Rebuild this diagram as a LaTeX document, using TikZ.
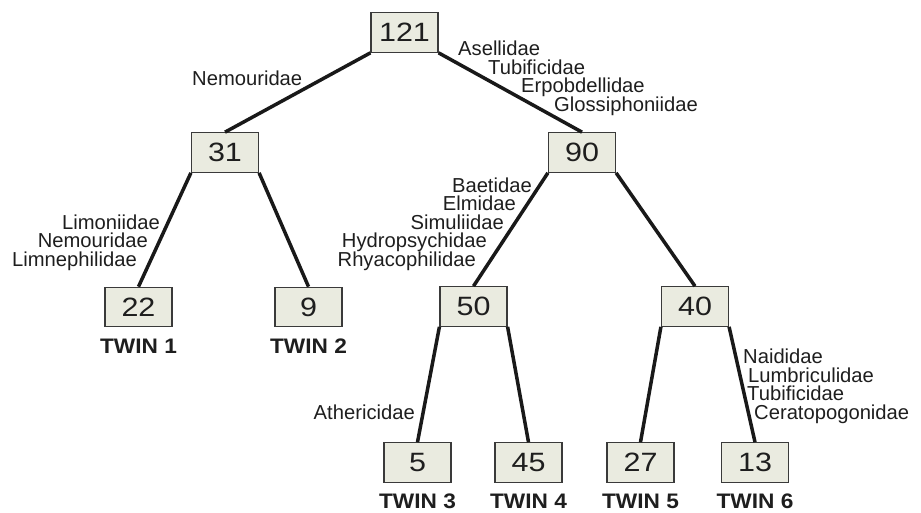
\documentclass[tikz,border=0pt]{standalone}
\usepackage{fontspec}
\setmainfont{Liberation Sans}
\newfontfamily\numfont[FakeStretch=1.15]{Liberation Sans}
\newfontfamily\twinfont[FakeStretch=1.08]{Liberation Sans}
\definecolor{boxfill}{HTML}{EAEBE0}
\definecolor{boxline}{HTML}{3A3A3A}
\definecolor{ink}{HTML}{1E1E1E}
\tikzset{
  countbox/.style={draw=boxline, fill=boxfill, line width=1.2pt,
    minimum width=67pt, minimum height=39.5pt, inner sep=0pt,
    text=ink, font=\numfont\fontsize{26.5}{26.5}\selectfont},
  branch/.style={line width=3.5pt, black!90},
  taxon/.style={inner sep=0pt, text=ink, font=\fontsize{20.2}{20.2}\selectfont},
  twin/.style={inner sep=0pt, anchor=base, text=ink,
    font=\twinfont\fontsize{21}{21}\selectfont\bfseries}
}
\begin{document}
\begin{tikzpicture}[x=1pt, y=-1pt]
\useasboundingbox (0,0) rectangle (921,512);

% count boxes
\node[countbox] (n121) at (404.5,32.5) {121};
\node[countbox] (n31)  at (225,152.5) {31};
\node[countbox] (n90)  at (582,152.5) {90};
\node[countbox] (n22)  at (138.5,307) {22};
\node[countbox] (n9)   at (308.5,307) {9};
\node[countbox] (n50)  at (473.5,306.5) {50};
\node[countbox] (n40)  at (695,306.5) {40};
\node[countbox] (n5)   at (417.5,462.5) {5};
\node[countbox] (n45)  at (528.5,462.5) {45};
\node[countbox] (n27)  at (640.5,462.5) {27};
\node[countbox] (n13)  at (755,462.5) {13};

% branches
\draw[branch] (n121.south west) -- (n31.north);
\draw[branch] (n121.south east) -- (n90.north);
\draw[branch] (n31.south west) -- (n22.north);
\draw[branch] (n31.south east) -- (n9.north);
\draw[branch] (n90.south west) -- (n50.north);
\draw[branch] (n90.south east) -- (n40.north);
\draw[branch] (n50.south west) -- (n5.north);
\draw[branch] (n50.south east) -- (n45.north);
\draw[branch] (n40.south west) -- (n27.north);
\draw[branch] (n40.south east) -- (n13.north);

% twin labels
\node[twin] (t1) at (138.5,353) {TWIN 1};
\node[twin] (t2) at (308.5,353) {TWIN 2};
\node[twin] (t3) at (417.5,508) {TWIN 3};
\node[twin] (t4) at (528.5,508) {TWIN 4};
\node[twin] (t5) at (640.5,508) {TWIN 5};
\node[twin] (t6) at (755,508) {TWIN 6};

% indicator taxa along the splits
\node[taxon, anchor=base west] (a1) at (192,85) {Nemouridae};

\node[taxon, anchor=base west] (b1) at (458,55) {Asellidae};
\node[taxon, anchor=base west] (b2) at (488,74) {Tubificidae};
\node[taxon, anchor=base west] (b3) at (521,92.5) {Erpobdellidae};
\node[taxon, anchor=base west] (b4) at (554,111) {Glossiphoniidae};

\node[taxon, anchor=base east] (c1) at (160,229) {Limoniidae};
\node[taxon, anchor=base east] (c2) at (148,247.5) {Nemouridae};
\node[taxon, anchor=base east] (c3) at (137,266) {Limnephilidae};

\node[taxon, anchor=base east] (d1) at (532,192) {Baetidae};
\node[taxon, anchor=base east] (d2) at (516,210.5) {Elmidae};
\node[taxon, anchor=base east] (d3) at (504,229) {Simuliidae};
\node[taxon, anchor=base east] (d4) at (487,247.5) {Hydropsychidae};
\node[taxon, anchor=base east] (d5) at (476,266) {Rhyacophilidae};

\node[taxon, anchor=base east] (e1) at (415,419) {Athericidae};

\node[taxon, anchor=base west] (f1) at (743,363) {Naididae};
\node[taxon, anchor=base west] (f2) at (748,382) {Lumbriculidae};
\node[taxon, anchor=base west] (f3) at (747,400.5) {Tubificidae};
\node[taxon, anchor=base west] (f4) at (754,419) {Ceratopogonidae};
\end{tikzpicture}
\end{document}
